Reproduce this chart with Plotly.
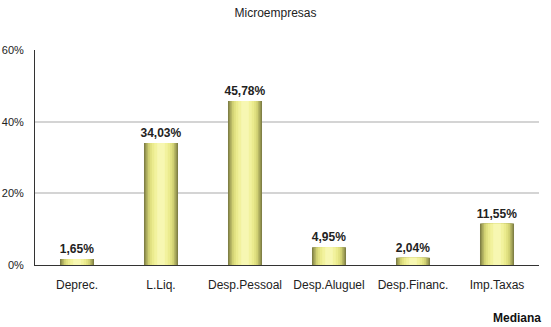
import plotly.graph_objects as go

categories = ["Deprec.", "L.Liq.", "Desp.Pessoal", "Desp.Aluguel", "Desp.Financ.", "Imp.Taxas"]
values = [1.65, 34.03, 45.78, 4.95, 2.04, 11.55]
y_ticks = [0, 20, 40, 60]
y_tick_text = [f"{t}%" for t in y_ticks]

labels = [f"{v:.2f}%".replace(".", ",") for v in values]

# Cylinder shading: stacked overlay bars, widest/darkest first, narrow/bright on top
layers = [
    (0.405, "#808046"),
    (0.375, "#9c9c55"),
    (0.345, "#b8b865"),
    (0.31, "#cfcf72"),
    (0.27, "#e0e080"),
    (0.22, "#ebeb8e"),
    (0.16, "#f2f29e"),
    (0.09, "#f7f7b2"),
]

fig = go.Figure()
for i, (w, c) in enumerate(layers):
    fig.add_trace(go.Bar(
        x=categories, y=values, width=w,
        marker=dict(color=c, line=dict(width=0)),
        text=labels if i == 0 else None,
        textposition="outside" if i == 0 else "none",
        constraintext="none",
        textfont=dict(family="Liberation Sans", size=12, color="#222222"),
        texttemplate="<b>%{text}</b>" if i == 0 else None,
        cliponaxis=False,
        hoverinfo="skip",
        showlegend=False,
    ))

fig.update_layout(
    width=551, height=327,
    margin=dict(l=35, r=12, t=50, b=62),
    barmode="overlay",
    plot_bgcolor="white", paper_bgcolor="white",
    font=dict(family="Liberation Sans", size=11, color="#222222"),
    title=dict(text="Microempresas", x=0.5, xanchor="center", y=0.962, yanchor="middle",
               font=dict(family="Liberation Sans", size=12, color="#222222")),
    annotations=[dict(text="<b>Mediana</b>", xref="paper", yref="paper",
                      x=1.008, y=-0.245, xanchor="right", yanchor="middle",
                      showarrow=False,
                      font=dict(family="Liberation Sans", size=12, color="#111111"))],
)
fig.update_xaxes(showline=True, linecolor="#333333", linewidth=1, showgrid=False,
                 ticks="outside", ticklen=9, tickcolor="rgba(0,0,0,0)",
                 tickfont=dict(size=12, color="#222222"), automargin=False)
fig.update_yaxes(range=[0, 60], tickvals=y_ticks, ticktext=y_tick_text,
                 showline=True, linecolor="#333333", linewidth=1,
                 showgrid=True, gridcolor="#d4d4d4", gridwidth=2,
                 ticks="outside", ticklen=8, tickcolor="rgba(0,0,0,0)",
                 tickfont=dict(size=11, color="#222222"), zeroline=False,
                 automargin=False)

fig.write_html("out.html")
